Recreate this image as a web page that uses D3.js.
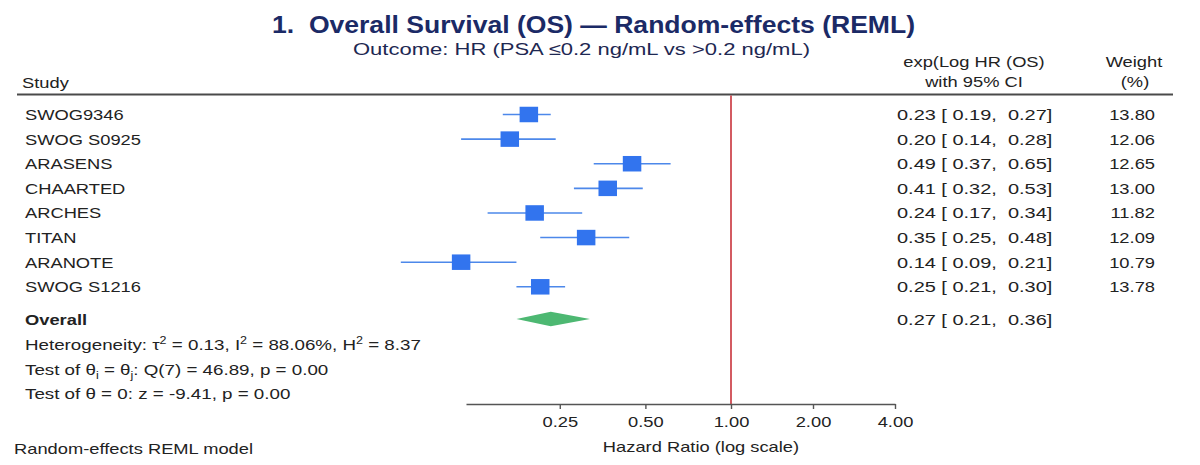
<!DOCTYPE html>
<html><head><meta charset="utf-8">
<script src="https://cdn.jsdelivr.net/npm/d3@7"></script>
<style>
body{margin:0;background:#fff}
svg{display:block}
text{font-family:"Liberation Sans",Arial,Helvetica,sans-serif}
</style>
</head><body>
<svg id="chart" width="1200" height="465"></svg>
<script>
// ---------------- data ----------------
const studies   = ["SWOG9346","SWOG S0925","ARASENS","CHAARTED","ARCHES","TITAN","ARANOTE","SWOG S1216"];
const hr        = [0.23, 0.20, 0.49, 0.41, 0.24, 0.35, 0.14, 0.25];
const ciLow     = [0.19, 0.14, 0.37, 0.32, 0.17, 0.25, 0.09, 0.21];
const ciHigh    = [0.27, 0.28, 0.65, 0.53, 0.34, 0.48, 0.21, 0.30];
const weights   = [13.80, 12.06, 12.65, 13.00, 11.82, 12.09, 10.79, 13.78];
const overallHR   = 0.27;
const overallLow  = 0.21;
const overallHigh = 0.36;
const tickValues = [0.25, 0.5, 1, 2, 4];
const tickLabels = ["0.25", "0.50", "1.00", "2.00", "4.00"];

const titleText = "1.  Overall Survival (OS) \u2014 Random-effects (REML)";
const subtitleText = "Outcome: HR (PSA \u22640.2 ng/mL vs >0.2 ng/mL)";

// ---------------- layout ----------------
const SX = 1.22;            // horizontal text stretch of the original picture
const FS = 15;
const txt = "#222";
const svg = d3.select("#chart");

const xMark = d3.scaleLog().domain([0.1, 1]).range([415.2, 729.4]);
const xAxisScale = d3.scaleLog().domain([0.117, 1, 4]).range([466, 731, 895]);
const yRow = d3.scaleLinear().domain([0, studies.length - 1]).range([114.5, 286.8]);
const yOverall = 319;
const axisY = 404;

function T(x, y, s, opt = {}) {
  const t = svg.append("text").attr("class", "s")
    .attr("x", x).attr("y", y)
    .attr("font-size", opt.fs || FS)
    .attr("fill", opt.fill || txt)
    .attr("text-anchor", opt.anchor || "start")
    .attr("font-weight", opt.bold ? "bold" : "normal");
  if (opt.pre) t.style("white-space", "pre");
  if (opt.width) t.attr("data-w", opt.width);
  if (opt.sx) t.attr("data-sx", opt.sx);
  if (s !== null) t.text(s);
  return t;
}

// title
T(593.5, 33, titleText, {fs: 23, bold: true, anchor: "middle", fill: "#1b2a66", pre: true, width: 643});
T(581.5, 55, subtitleText, {fs: 17, anchor: "middle", fill: "#1e2852", width: 457});

// headers
T(22, 88, "Study");
T(974, 67, "exp(Log HR (OS)", {anchor: "middle"});
T(974, 87, "with 95% CI", {anchor: "middle"});
T(1134, 67, "Weight", {anchor: "middle"});
T(1135, 87, "(%)", {anchor: "middle"});

svg.append("line").attr("x1", 17).attr("x2", 1173).attr("y1", 94.5).attr("y2", 94.5)
  .attr("stroke", "#4a4a4a").attr("stroke-width", 2);

// null line
svg.append("line").attr("x1", xAxisScale(1)).attr("x2", xAxisScale(1))
  .attr("y1", 95.5).attr("y2", axisY)
  .attr("stroke", "#c8323a").attr("stroke-width", 1.6);

const f2 = d3.format(".2f");
const ciStr = (m, l, h) => `${f2(m)} [ ${f2(l)},  ${f2(h)}]`;

// study rows
studies.forEach((s, i) => {
  const y = yRow(i);
  T(25, y + 5.5, s);
  T(897, y + 5.5, ciStr(hr[i], ciLow[i], ciHigh[i]), {pre: true, sx: SX * 1.09});
  T(1155, y + 5.5, f2(weights[i]), {anchor: "end"});
  svg.append("line").attr("x1", xMark(ciLow[i])).attr("x2", xMark(ciHigh[i]))
    .attr("y1", y).attr("y2", y).attr("stroke", "#4d88ea").attr("stroke-width", 1.6);
  svg.append("rect").attr("x", xMark(hr[i]) - 9.25).attr("y", y - 7.75)
    .attr("width", 18.5).attr("height", 15.5).attr("fill", "#3274ee");
});

// overall
T(25, yOverall + 5.5, "Overall", {bold: true});
T(897, yOverall + 5.5, ciStr(overallHR, overallLow, overallHigh), {pre: true, sx: SX * 1.09});
svg.append("path")
  .attr("d", `M${xMark(overallLow)},${yOverall} L${xMark(overallHR)},${yOverall - 7.2} L${xMark(overallHigh)},${yOverall} L${xMark(overallHR)},${yOverall + 7.2} Z`)
  .attr("fill", "#4db872");

// heterogeneity lines
{
  const t = T(25, 350, null, {sx: SX * 1.025});
  t.append("tspan").text("Heterogeneity: \u03c4");
  t.append("tspan").attr("dy", -6).attr("font-size", 10).text("2");
  t.append("tspan").attr("dy", 6).text(" = 0.13, I");
  t.append("tspan").attr("dy", -6).attr("font-size", 10).text("2");
  t.append("tspan").attr("dy", 6).text(" = 88.06%, H");
  t.append("tspan").attr("dy", -6).attr("font-size", 10).text("2");
  t.append("tspan").attr("dy", 6).text(" = 8.37");
}
{
  const t = T(25, 375, null, {sx: SX * 1.025});
  t.append("tspan").text("Test of \u03b8");
  t.append("tspan").attr("dy", 4).attr("font-size", 10).text("i");
  t.append("tspan").attr("dy", -4).text(" = \u03b8");
  t.append("tspan").attr("dy", 4).attr("font-size", 10).text("j");
  t.append("tspan").attr("dy", -4).text(": Q(7) = 46.89, p = 0.00");
}
T(25, 399, "Test of \u03b8 = 0: z = -9.41, p = 0.00", {sx: SX * 1.025});

// axis
const axis = d3.axisBottom(xAxisScale).tickValues(tickValues)
  .tickFormat((d, i) => tickLabels[i]).tickSize(5).tickSizeOuter(0).tickPadding(7);
const ag = svg.append("g").attr("transform", `translate(0,${axisY})`).call(axis);
ag.select(".domain").attr("stroke", "#555").attr("stroke-width", 1.6);
ag.selectAll(".tick line").attr("stroke", "#555").attr("stroke-width", 1.4);
ag.selectAll(".tick text").attr("class", "s").attr("font-size", FS).attr("fill", txt)
  .attr("font-family", null);

T(701, 452, "Hazard Ratio (log scale)", {anchor: "middle"});
T(14, 453.5, "Random-effects REML model");

// stretch all text horizontally like the original
svg.selectAll("text.s").each(function () {
  const w = this.getComputedTextLength();
  const target = this.getAttribute("data-w");
  const sx = this.getAttribute("data-sx");
  const len = target ? +target : w * (sx ? +sx : SX);
  this.setAttribute("textLength", len);
  this.setAttribute("lengthAdjust", "spacingAndGlyphs");
});
</script>
</body></html>
